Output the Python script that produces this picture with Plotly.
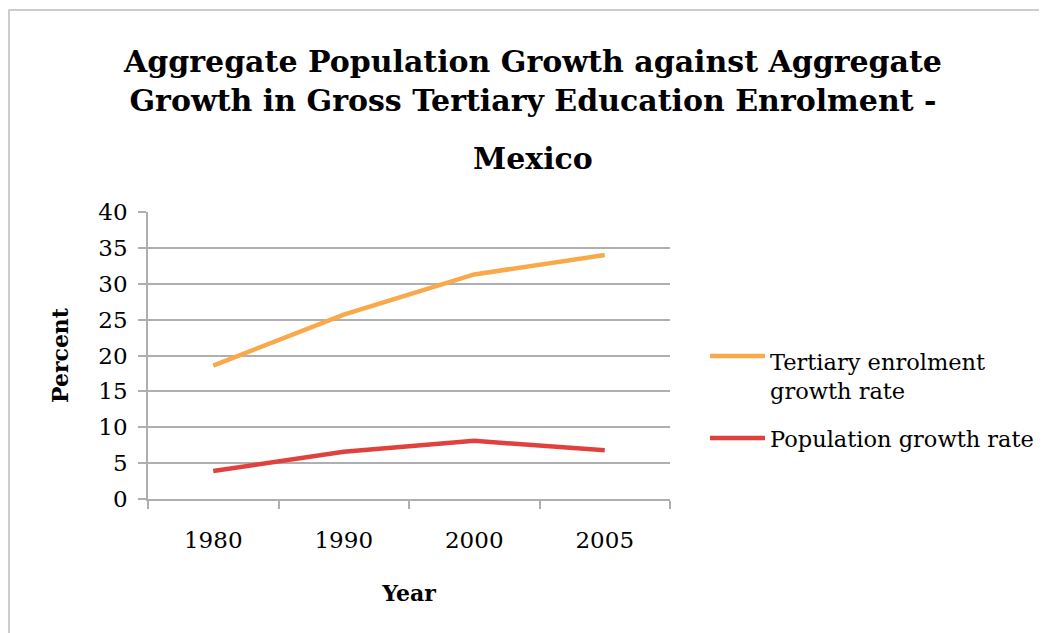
import plotly.graph_objects as go

years = ["1980", "1990", "2000", "2005"]
tertiary = [18.6, 25.7, 31.3, 34.0]
population = [3.9, 6.6, 8.1, 6.8]
series_names = ["Tertiary enrolment<br>growth rate", "Population growth rate"]
y_ticks = [0, 5, 10, 15, 20, 25, 30, 35, 40]

ORANGE = "#F9A94A"
RED = "#E0413D"
GRID = "#AFAFAF"
FONT = "DejaVu Serif"

OFF = 8  # page body margin
W, H = 1047 - OFF, 633 - OFF
L, R, T, B = 148 - OFF, 670 - OFF, 212 - OFF, 499 - OFF


def px(x):
    return (x - OFF - L) / (R - L)


def py(y):
    return (B - (y - OFF)) / (B - T)


fig = go.Figure()
fig.add_trace(go.Scatter(x=years, y=tertiary, mode="lines", name="Tertiary enrolment growth rate",
                         line=dict(color=ORANGE, width=4.5)))
fig.add_trace(go.Scatter(x=years, y=population, mode="lines", name="Population growth rate",
                         line=dict(color=RED, width=4.5)))

fig.update_layout(
    width=W, height=H,
    margin=dict(l=L, r=W - R, t=T, b=H - B, pad=0),
    paper_bgcolor="white", plot_bgcolor="white",
    showlegend=False,
    font=dict(family=FONT, color="black", size=20),
    title=dict(
        text="Aggregate Population Growth against Aggregate<br>Growth in Gross Tertiary Education Enrolment -",
        font=dict(family=FONT, size=30, color="black", weight="bold"),
        x=px(533), xanchor="center", xref="paper",
        y=1 - (72 - OFF) / H, yanchor="middle", yref="container",
    ),
)
fig.add_annotation(text="Mexico", xref="paper", yref="paper", x=px(533), y=py(158),
                   xanchor="center", yanchor="middle", showarrow=False,
                   font=dict(family=FONT, size=30, color="black", weight="bold"))

fig.update_xaxes(
    type="category", range=[-0.5, 3.5],
    showline=True, linecolor=GRID, linewidth=1.5,
    ticks="outside", tickson="boundaries", ticklen=8, tickcolor=GRID, tickwidth=1.5,
    showgrid=False, zeroline=False,
    tickfont=dict(family=FONT, size=23, color="black"),
    ticklabelstandoff=20,
    title=dict(text="Year", font=dict(family=FONT, size=22, color="black", weight="bold"), standoff=33),
)
fig.update_yaxes(
    range=[0, 40], tickvals=y_ticks,
    showline=True, linecolor=GRID, linewidth=1.5,
    ticks="outside", ticklen=8, tickcolor=GRID, tickwidth=1.5,
    showgrid=True, gridcolor=GRID, gridwidth=1.5,
    zeroline=False,
    tickfont=dict(family=FONT, size=23, color="black"),
    ticklabelstandoff=6,
    title=dict(text="Percent", font=dict(family=FONT, size=22, color="black", weight="bold"), standoff=24),
)

# chart frame
fig.add_shape(type="rect", xref="paper", yref="paper",
              x0=px(9), x1=px(1070), y0=py(660), y1=py(10),
              line=dict(color="#BDBDBD", width=1.5), fillcolor="rgba(0,0,0,0)", layer="below")

# manual legend
legend_items = [(series_names[0], ORANGE, 356, 376), (series_names[1], RED, 438, 439)]
for text, color, ly, ty in legend_items:
    fig.add_shape(type="line", xref="paper", yref="paper",
                  x0=px(710), x1=px(765), y0=py(ly), y1=py(ly),
                  line=dict(color=color, width=4.5))
    fig.add_annotation(text=text, xref="paper", yref="paper", x=px(768), y=py(ty),
                       xanchor="left", yanchor="middle", align="left", showarrow=False,
                       font=dict(family=FONT, size=22.5, color="black"))

fig.write_html("out.html")
